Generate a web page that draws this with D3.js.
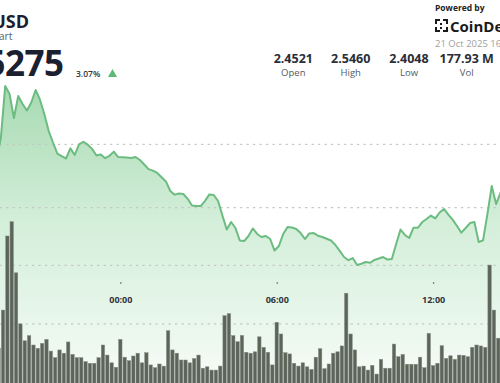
<!DOCTYPE html>
<html>
<head>
<meta charset="utf-8">
<script src="https://cdn.jsdelivr.net/npm/d3@7"></script>
<style>
  html, body { margin: 0; padding: 0; background: #fff; }
  svg { display: block; font-family: "Open Sans", "Noto Sans", sans-serif; }
</style>
</head>
<body>
<svg id="chart" width="500" height="383"></svg>
<script>
// ---------- data ----------
const pair = "XRP/USD";
const subtitle = "Chart";
const lastPrice = "2.5275";
const changePct = "3.07%";
const statValues = ["2.4521", "2.5460", "2.4048", "177.93 M"];
const statLabels = ["Open", "High", "Low", "Vol"];
const stampText = "21 Oct 2025 16:00 UTC";
const timeTickLabels = ["00:00", "06:00", "12:00"];
const priceGrid = [2.45, 2.50];
const volumeGrid = [2.5, 5];

// 10-minute volume bars (millions), first bar at 20 Oct 19:20
const volumeStart = "2025-10-20T19:20";
const volumes = [1.47, 3.09, 6.25, 6.86, 4.68, 2.50, 1.78, 2.00, 1.60, 1.46, 1.67, 1.84, 1.34, 1.06, 1.39, 1.25,
  1.73, 1.20, 1.06, 1.06, 0.89, 0.82, 0.82, 1.06, 1.60, 1.17, 0.84, 0.65, 1.84, 1.08, 0.93, 1.13, 1.25, 0.84,
  1.27, 0.75, 0.63, 0.79, 0.70, 2.21, 1.39, 1.25, 0.96, 0.96, 0.84, 1.02, 1.17, 0.61, 0.67, 0.53, 0.53, 0.70,
  2.85, 2.94, 2.00, 1.74, 2.01, 1.29, 1.25, 1.31, 1.95, 1.50, 1.29, 0.75, 2.57, 2.07, 1.27, 1.22, 0.82, 0.70,
  0.84, 0.67, 0.56, 1.08, 1.44, 0.59, 0.79, 1.25, 1.31, 1.56, 3.81, 2.07, 1.39, 0.67, 0.70, 0.53, 0.73, 0.36,
  0.99, 0.61, 0.61, 1.64, 1.10, 1.20, 0.78, 0.78, 0.78, 1.08, 0.63, 2.10, 0.72, 0.82, 1.57, 1.03, 1.14, 0.99,
  1.17, 1.16, 1.10, 1.50, 1.60, 1.56, 1.50, 5.01, 3.09, 1.89];

// price every 10 minutes, first point at 20 Oct 19:15
const priceStart = "2025-10-20T19:15";
const prices = [2.4876, 2.5050,
  2.5460, 2.5397, 2.5207, 2.5381, 2.5318, 2.5267, 2.5330, 2.5428, 2.5352, 2.5239,
  2.5107, 2.5014, 2.4927, 2.4906, 2.4888, 2.4968, 2.4916, 2.5000, 2.5020, 2.4997,
  2.4964, 2.4912, 2.4919, 2.4890, 2.4909, 2.4942, 2.4899, 2.4898, 2.4895, 2.4892,
  2.4900, 2.4876, 2.4841, 2.4804, 2.4792, 2.4774, 2.4740, 2.4707, 2.4632, 2.4603,
  2.4612, 2.4608, 2.4570, 2.4517, 2.4513, 2.4513, 2.4554, 2.4605, 2.4600, 2.4553,
  2.4438, 2.4328, 2.4387, 2.4340, 2.4241, 2.4237, 2.4277, 2.4336, 2.4293, 2.4269,
  2.4277, 2.4253, 2.4162, 2.4198, 2.4293, 2.4348, 2.4344, 2.4332, 2.4300, 2.4253,
  2.4297, 2.4300, 2.4279, 2.4269, 2.4255, 2.4241, 2.4206, 2.4159, 2.4111, 2.4086,
  2.4103, 2.4048, 2.4058, 2.4072, 2.4066, 2.4088, 2.4099, 2.4111, 2.4091, 2.4095,
  2.4214, 2.4328, 2.4285, 2.4261, 2.4342, 2.4342, 2.4387, 2.4411, 2.4438, 2.4416,
  2.4462, 2.4490, 2.4446, 2.4406, 2.4356, 2.4303, 2.4340, 2.4379, 2.4387, 2.4229,
  2.4243, 2.4450, 2.4671, 2.4529, 2.4616, 2.4679];

// ---------- build ----------
const W = 500, H = 383;
const svg = d3.select("#chart");
const parse = d3.timeParse("%Y-%m-%dT%H:%M");
const vStart = parse(volumeStart), pStart = parse(priceStart);
const volData = volumes.map((v, i) => ({ t: d3.timeMinute.offset(vStart, 10 * i), v }));
const priceData = prices.map((p, i) => ({ t: d3.timeMinute.offset(pStart, 10 * i), p }));

const x = d3.scaleTime()
  .domain([parse("2025-10-20T19:23"), parse("2025-10-21T14:34")])
  .range([0, W]);
const y = d3.scaleLinear().domain([2.45, 2.50]).range([207.7, 144.3]);
const yVol = d3.scaleLinear().domain([0, 5]).range([382.5, 265.3]);
const step = x(d3.timeMinute.offset(vStart, 10)) - x(vStart);
const barW = step * 0.78;

// gradient
const defs = svg.append("defs");
const grad = defs.append("linearGradient").attr("id", "areaGrad")
  .attr("gradientUnits", "userSpaceOnUse").attr("x1", 0).attr("x2", 0).attr("y1", 86).attr("y2", H);
grad.append("stop").attr("offset", "0%").attr("stop-color", "#a7dab2");
grad.append("stop").attr("offset", "45%").attr("stop-color", "#d3eed9");
grad.append("stop").attr("offset", "100%").attr("stop-color", "#f6fcf7");

// area
const area = d3.area().x(d => x(d.t)).y0(H).y1(d => y(d.p)).curve(d3.curveLinear);
svg.append("path").datum(priceData).attr("d", area).attr("fill", "url(#areaGrad)");

// gridlines
const grid = svg.append("g");
grid.selectAll("line.pg").data(priceGrid).join("line")
  .attr("x1", 0).attr("x2", W).attr("y1", d => y(d)).attr("y2", d => y(d))
  .attr("stroke", "#c4c8c4").attr("stroke-width", 1.3).attr("stroke-dasharray", "1.3 5.2").attr("stroke-linecap", "round");
grid.selectAll("line.vg").data(volumeGrid).join("line")
  .attr("x1", 0).attr("x2", W).attr("y1", d => yVol(d)).attr("y2", d => yVol(d))
  .attr("stroke", "#c4c8c4").attr("stroke-width", 1.3).attr("stroke-dasharray", "1.3 5.2").attr("stroke-linecap", "round");

// volume bars
svg.append("g").selectAll("rect").data(volData).join("rect")
  .attr("x", d => x(d.t) - barW / 2)
  .attr("width", barW)
  .attr("y", d => yVol(d.v))
  .attr("height", d => yVol(0) - yVol(d.v) + 1)
  .attr("fill", "#5c6559")
  .attr("stroke", "#858c83").attr("stroke-width", 0.5);

// price line
const line = d3.line().x(d => x(d.t)).y(d => y(d.p));
svg.append("path").datum(priceData).attr("d", line)
  .attr("fill", "none").attr("stroke", "#6cbc80").attr("stroke-width", 2).attr("stroke-linejoin", "round");

// time axis
const tickDates = timeTickLabels.map(s => parse("2025-10-21T" + s));
const axis = d3.axisBottom(x).tickValues(tickDates).tickFormat(d3.timeFormat("%H:%M")).tickSize(0).tickPadding(0);
const ax = svg.append("g").attr("transform", "translate(0,283)").call(axis);
ax.select(".domain").remove();
ax.selectAll(".tick").append("circle").attr("r", 0.8).attr("fill", "#555");
ax.selectAll(".tick text").attr("y", 19.5).attr("dy", null)
  .attr("font-family", "'Open Sans', sans-serif").attr("font-size", 9).attr("font-weight", 700).attr("fill", "#2e3440");

// header
const hdr = svg.append("g").attr("fill", "#1b2030");
hdr.append("text").attr("x", 29).attr("y", 28).attr("text-anchor", "end")
  .attr("font-size", 18).attr("font-weight", 700).text(pair);
hdr.append("text").attr("x", 12.5).attr("y", 40).attr("text-anchor", "end")
  .attr("font-size", 10.5).attr("fill", "#5a5f68").text(subtitle);
hdr.append("text").attr("x", 63.5).attr("y", 76).attr("text-anchor", "end")
  .attr("font-size", 35).attr("font-weight", 700).attr("letter-spacing", -0.5).text(lastPrice);
hdr.append("text").attr("x", 76).attr("y", 76.5)
  .attr("font-size", 8.5).attr("font-weight", 600).attr("fill", "#333").text(changePct);
hdr.append("path").attr("d", "M108,77 L117,77 L112.5,69 Z").attr("fill", "#5db875");

const statX = [293.3, 350.7, 409, 466.7];
const stats = svg.append("g").attr("text-anchor", "middle");
stats.selectAll("text.v").data(statValues).join("text")
  .attr("x", (d, i) => statX[i]).attr("y", 62.5)
  .attr("font-size", 12.5).attr("font-weight", 700).attr("fill", "#2a2e38").text(d => d);
stats.selectAll("text.l").data(statLabels).join("text")
  .attr("x", (d, i) => statX[i]).attr("y", 75.5)
  .attr("font-size", 9.5).attr("fill", "#555a62").text(d => d);

// branding
const br = svg.append("g");
br.append("text").attr("x", 435).attr("y", 11).attr("font-size", 8.5).attr("font-weight", 700)
  .attr("fill", "#222").text("Powered by");
const icon = br.append("g").attr("fill", "#1a1a1a");
[[435,19,5,2],[435,19,2,5],[435,30,5,2],[435,27,2,5],[443,19,5,2],[446,19,2,5],[443,30,5,2],[446,27,2,5],
 [440,23,2,2],[440,27,2,2]].forEach(r => icon.append("rect").attr("x", r[0]).attr("y", r[1]).attr("width", r[2]).attr("height", r[3]));
br.append("text").attr("x", 450).attr("y", 31.5).attr("font-size", 15).attr("font-weight", 700)
  .attr("fill", "#1a1a1a").text("CoinDesk");
br.append("text").attr("x", 435).attr("y", 46.5).attr("font-size", 9.5).attr("fill", "#a0a0a0").text(stampText);
</script>
</body>
</html>
